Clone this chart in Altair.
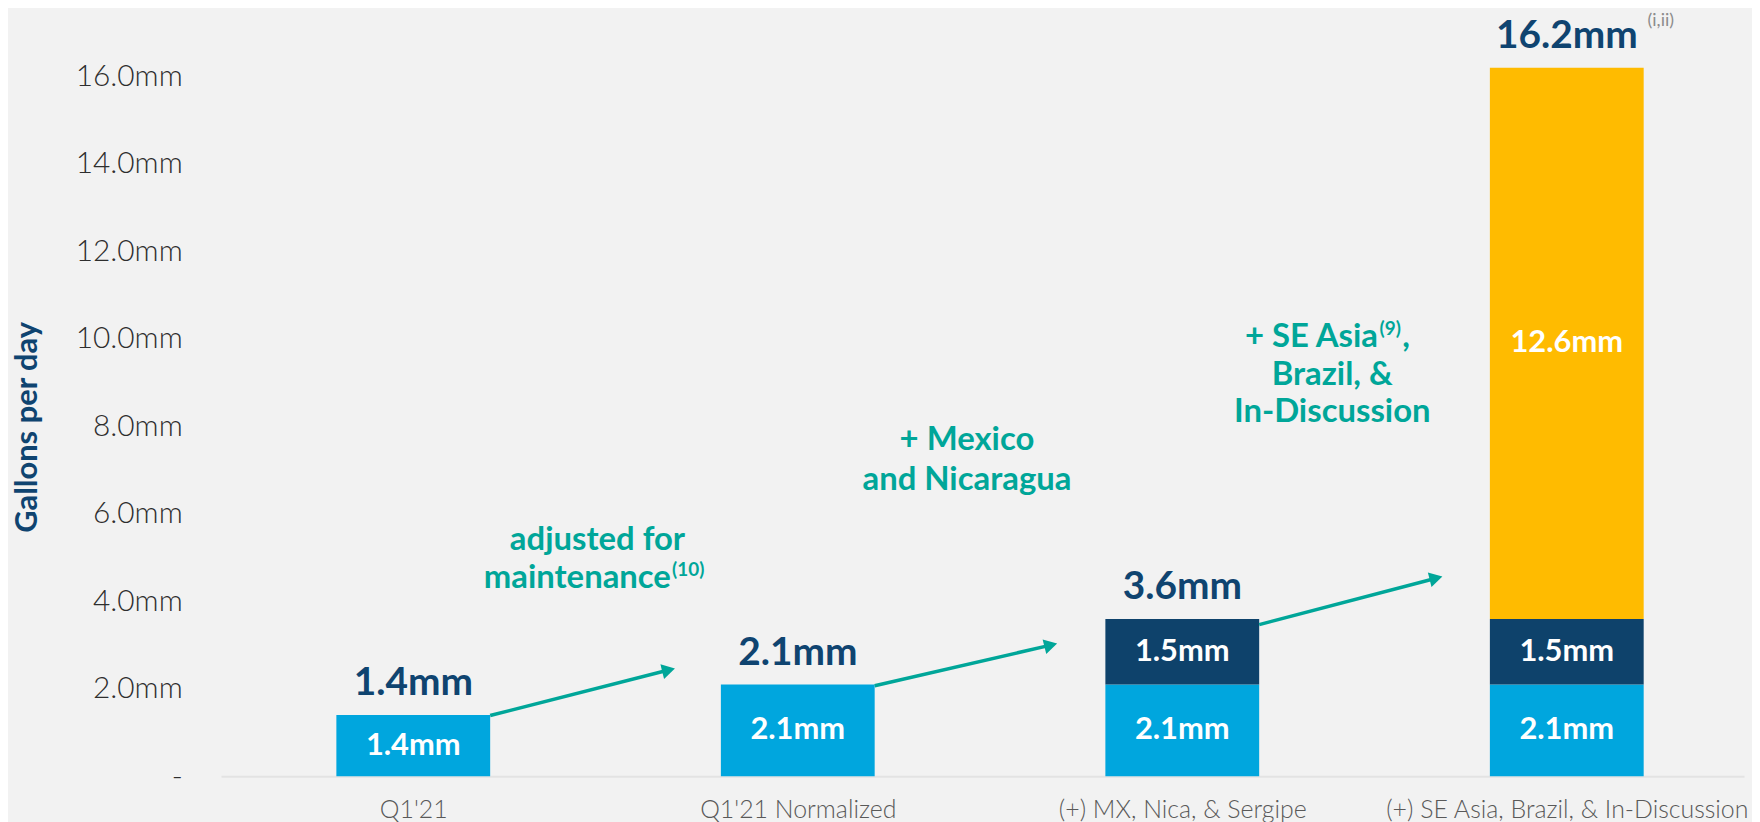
import json
import altair as alt
import pandas as pd

# ---------------- data ----------------
categories = ["Q1'21", "Q1'21 Normalized", "(+) MX, Nica, & Sergipe",
              "(+) SE Asia, Brazil, & In-Discussion"]
totals = [1.4, 2.1, 3.6, 16.2]
total_labels = ["1.4mm", "2.1mm", "3.6mm", "16.2mm"]

seg_bar = [0, 1, 2, 2, 3, 3, 3]
seg_group = ["Current", "Current", "Current", "Mexico & Nicaragua",
             "Current", "Mexico & Nicaragua", "SE Asia, Brazil & In-Discussion"]
seg_value = [1.4, 2.1, 2.1, 1.5, 2.1, 1.5, 12.6]
seg_label = ["1.4mm", "2.1mm", "2.1mm", "1.5mm", "2.1mm", "1.5mm", "12.6mm"]

group_order = ["Current", "Mexico & Nicaragua", "SE Asia, Brazil & In-Discussion"]
group_colors = ["#00A6DE", "#0E426B", "#FFBB00"]

arrow_x_start = [0.20, 1.20, 2.20]
arrow_y_start = [1.39, 2.07, 3.47]
arrow_x_end = [0.664, 1.658, 2.660]
arrow_y_end = [2.43, 3.00, 4.53]

note_c_text = ["adjusted for", "+ Mexico", "and Nicaragua", "Brazil, &", "In-Discussion"]
note_c_x = [0.479, 1.44, 1.44, 2.39, 2.39]
note_c_y = [5.40, 7.69, 6.77, 9.17, 8.33]

note_r_text = ["maintenance", "+ SE Asia"]
note_r_x = [0.670, 2.509]
note_r_y = [4.53, 10.04]

note_l_text = [","]
note_l_x = [2.572]
note_l_y = [10.04]

sup_text = ["(10)", "(9)"]
sup_x = [0.673, 2.513]
sup_y = [4.72, 10.22]

ref_text = ["(i,ii)"]
ref_x = [3.21]
ref_y = [17.27]

y_ticks = [0, 2, 4, 6, 8, 10, 12, 14, 16]

# ---------------- tables ----------------
seg = pd.DataFrame({"bar": seg_bar, "group": seg_group, "value": seg_value, "label": seg_label})
seg["y1"] = seg.groupby("bar")["value"].cumsum()
seg["y0"] = seg["y1"] - seg["value"]
seg["mid"] = (seg["y0"] + seg["y1"]) / 2
HALF = 0.2
seg["xl"] = seg["bar"] - HALF
seg["xr"] = seg["bar"] + HALF

tot = pd.DataFrame({"bar": list(range(len(categories))), "total": totals, "label": total_labels})
arrows = pd.DataFrame({"x": arrow_x_start, "y": arrow_y_start, "x2": arrow_x_end, "y2": arrow_y_end})
notes_c = pd.DataFrame({"x": note_c_x, "y": note_c_y, "t": note_c_text})
notes_r = pd.DataFrame({"x": note_r_x, "y": note_r_y, "t": note_r_text})
notes_l = pd.DataFrame({"x": note_l_x, "y": note_l_y, "t": note_l_text})
sups = pd.DataFrame({"x": sup_x, "y": sup_y, "t": sup_text})
refs = pd.DataFrame({"x": ref_x, "y": ref_y, "t": ref_text})

NAVY = "#0F4470"
TEAL = "#00A699"
FONT = "Lato"

x_scale = alt.Scale(domain=[-0.5, 3.461], nice=False, zero=False)
y_scale = alt.Scale(domain=[0, 17], nice=False)

label_expr = json.dumps(categories) + "[datum.value]"

x_axis = alt.Axis(values=[0, 1, 2, 3], labelExpr=label_expr, title=None, grid=False,
                  ticks=False, domain=True, domainColor="#E3E3E3", domainWidth=2,
                  labelFont=FONT, labelFontSize=25, labelFontWeight=300,
                  labelColor="#595959", labelPadding=21, labelFlush=False,
                  labelOverlap=False, labelBound=False, labelLimit=0)
y_axis = alt.Axis(values=y_ticks,
                  labelExpr="datum.value == 0 ? '-' : format(datum.value, '.1f') + 'mm'",
                  title="Gallons per day", titleFont=FONT, titleFontSize=31,
                  titleFontWeight="bold", titleColor=NAVY, titleAngle=270,
                  titleX=-194, titleY=396, titleAlign="center", titleBaseline="middle",
                  grid=False, ticks=False, domain=False,
                  labelFont=FONT, labelFontSize=30, labelFontWeight=300,
                  labelColor="#2E2E2E", labelPadding=39)

bars = alt.Chart(seg).mark_bar().encode(
    x=alt.X("xl:Q", scale=x_scale, axis=x_axis),
    x2="xr:Q",
    y=alt.Y("y0:Q", scale=y_scale, axis=y_axis),
    y2="y1:Q",
    color=alt.Color("group:N", scale=alt.Scale(domain=group_order, range=group_colors), legend=None),
)

seg_text = alt.Chart(seg).mark_text(font=FONT, fontSize=31, fontWeight="bold", color="white",
                                    baseline="middle", align="center").encode(
    x=alt.X("bar:Q", scale=x_scale), y=alt.Y("mid:Q", scale=y_scale), text="label:N")

tot_text = alt.Chart(tot).mark_text(font=FONT, fontSize=39, fontWeight="bold", color=NAVY,
                                    baseline="alphabetic", align="center", dy=-20).encode(
    x=alt.X("bar:Q", scale=x_scale), y=alt.Y("total:Q", scale=y_scale), text="label:N")

arrow_lines = alt.Chart(arrows).mark_rule(color=TEAL, strokeWidth=3.5).encode(
    x=alt.X("x:Q", scale=x_scale), y=alt.Y("y:Q", scale=y_scale), x2="x2:Q", y2="y2:Q")

arrow_heads = alt.Chart(arrows).mark_point(shape="triangle-up", filled=True, color=TEAL,
                                           opacity=1, size=230, angle=76).encode(
    x=alt.X("x2:Q", scale=x_scale), y=alt.Y("y2:Q", scale=y_scale))

def note_layer(df, align, size, color, weight="bold"):
    return alt.Chart(df).mark_text(font=FONT, fontSize=size, fontWeight=weight, color=color,
                                   align=align, baseline="middle").encode(
        x=alt.X("x:Q", scale=x_scale), y=alt.Y("y:Q", scale=y_scale), text="t:N")

layers = [
    bars, seg_text, tot_text, arrow_lines, arrow_heads,
    note_layer(notes_c, "center", 33, TEAL),
    note_layer(notes_r, "right", 33, TEAL),
    note_layer(notes_l, "left", 33, TEAL),
    note_layer(sups, "left", 19, TEAL),
    note_layer(refs, "left", 18, "#8C8C8C", weight="normal"),
]

chart = alt.layer(*layers).properties(
    width=1530, height=747,
    autosize=alt.AutoSizeParams(type="none"),
    padding={"left": 214, "top": 23, "right": 8, "bottom": 44},
    background="#F2F2F2",
).configure_view(stroke=None)

chart.save("out.html", embed_options={"renderer": "svg", "actions": False})
